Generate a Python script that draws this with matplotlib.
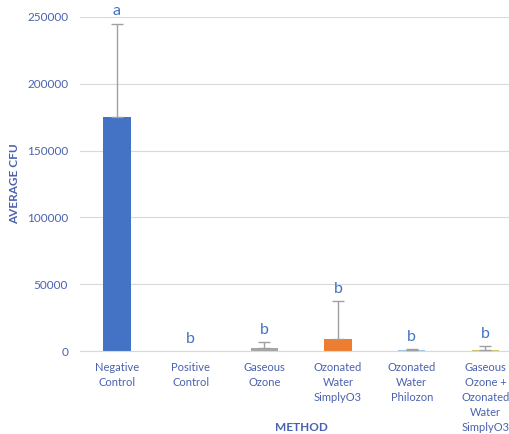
import numpy as np
import matplotlib.pyplot as plt

plt.rcParams['font.family'] = ['Lato', 'DejaVu Sans']

# data
methods = ["Negative\nControl", "Positive\nControl", "Gaseous\nOzone",
           "Ozonated\nWater\nSimplyO3", "Ozonated\nWater\nPhilozon",
           "Gaseous\nOzone +\nOzonated\nWater\nSimplyO3"]
avg_cfu = [175000, 0, 2000, 9000, 500, 1000]
err_up = [70000, 0, 4500, 28500, 1000, 2700]
letters = ["a", "b", "b", "b", "b", "b"]
bar_colors = ["#4472C4", "#ED7D31", "#A5A5A5", "#ED7D31", "#9DC3E6", "#C9C26A"]

txt_color = "#4A62AE"

fig = plt.figure(figsize=(5.10, 4.34), dpi=100)
ax = fig.add_axes([0.157, 0.191, 0.867, 0.770])

x = np.arange(len(methods))
ax.bar(x, avg_cfu, width=0.37, color=bar_colors, zorder=2)

# only upper error bars, skip the ones that are zero
has_err = [e > 0 for e in err_up]
xe = x[has_err]
ye = np.array(avg_cfu)[has_err]
ee = np.array(err_up)[has_err]
ax.errorbar(xe, ye, yerr=[np.zeros(len(xe)), ee], fmt='none',
            ecolor="#A0A0A0", elinewidth=1, capsize=4, capthick=1, zorder=3)

# significance letters above each bar
for xi, v, e, l in zip(x, avg_cfu, err_up, letters):
    top = v + e
    ax.text(xi, top + 4000, l, ha='center', va='bottom', color="#4472C4", fontsize=11.5)

ax.set_xlim(-0.5, len(methods) - 0.5)
ax.set_ylim(0, 250000)
ax.set_yticks(np.arange(0, 250001, 50000))
ax.set_xticks(x)
ax.set_xticklabels(methods, fontsize=8, color=txt_color, linespacing=1.45)
ax.tick_params(axis='y', labelsize=8.5, labelcolor=txt_color, length=0, pad=8.6)
ax.tick_params(axis='x', length=0, pad=8)

ax.yaxis.grid(True, color="#D9D9D9", linewidth=0.8, zorder=0)
ax.set_axisbelow(True)
for s in ['top', 'right', 'left']:
    ax.spines[s].set_visible(False)
ax.spines['bottom'].set_color("#D9D9D9")

ax.set_ylabel("AVERAGE CFU", fontsize=8.5, fontweight='bold', color=txt_color)
ax.yaxis.set_label_coords(-0.136, 0.5)
ax.set_xlabel("METHOD", fontsize=8.5, fontweight='bold', color=txt_color, va='center')
ax.xaxis.set_label_coords(0.5, -0.2275)

fig.savefig("out.png", dpi=100)
